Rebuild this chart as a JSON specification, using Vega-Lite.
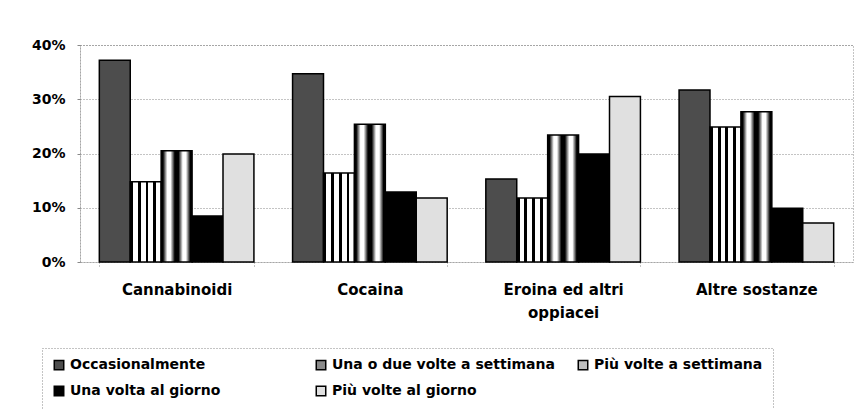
{
  "$schema": "https://vega.github.io/schema/vega-lite/v6.json",
  "width": 773,
  "height": 217,
  "autosize": {"type": "none"},
  "padding": {"left": 80, "top": 45, "right": 4, "bottom": 147},
  "background": "white",
  "config": {
    "font": "DejaVu Sans",
    "view": {"stroke": "#888", "strokeDash": [1, 2], "strokeWidth": 1},
    "legend": {"strokeDash": [1, 2]}
  },
  "data": {
    "values": [
      {"sostanza": "Cannabinoidi", "frequenza": "Occasionalmente", "valore": 0.372},
      {"sostanza": "Cannabinoidi", "frequenza": "Una o due volte a settimana", "valore": 0.148},
      {"sostanza": "Cannabinoidi", "frequenza": "Più volte a settimana", "valore": 0.205},
      {"sostanza": "Cannabinoidi", "frequenza": "Una volta al giorno", "valore": 0.085},
      {"sostanza": "Cannabinoidi", "frequenza": "Più volte al giorno", "valore": 0.199},
      {"sostanza": "Cocaina", "frequenza": "Occasionalmente", "valore": 0.347},
      {"sostanza": "Cocaina", "frequenza": "Una o due volte a settimana", "valore": 0.164},
      {"sostanza": "Cocaina", "frequenza": "Più volte a settimana", "valore": 0.254},
      {"sostanza": "Cocaina", "frequenza": "Una volta al giorno", "valore": 0.129},
      {"sostanza": "Cocaina", "frequenza": "Più volte al giorno", "valore": 0.118},
      {"sostanza": "Eroina ed altri oppiacei", "frequenza": "Occasionalmente", "valore": 0.153},
      {"sostanza": "Eroina ed altri oppiacei", "frequenza": "Una o due volte a settimana", "valore": 0.118},
      {"sostanza": "Eroina ed altri oppiacei", "frequenza": "Più volte a settimana", "valore": 0.234},
      {"sostanza": "Eroina ed altri oppiacei", "frequenza": "Una volta al giorno", "valore": 0.199},
      {"sostanza": "Eroina ed altri oppiacei", "frequenza": "Più volte al giorno", "valore": 0.305},
      {"sostanza": "Altre sostanze", "frequenza": "Occasionalmente", "valore": 0.317},
      {"sostanza": "Altre sostanze", "frequenza": "Una o due volte a settimana", "valore": 0.249},
      {"sostanza": "Altre sostanze", "frequenza": "Più volte a settimana", "valore": 0.277},
      {"sostanza": "Altre sostanze", "frequenza": "Una volta al giorno", "valore": 0.099},
      {"sostanza": "Altre sostanze", "frequenza": "Più volte al giorno", "valore": 0.072}
    ]
  },
  "mark": {"type": "bar", "stroke": "black", "strokeWidth": 1.5},
  "encoding": {
    "x": {
      "field": "sostanza",
      "type": "nominal",
      "sort": ["Cannabinoidi", "Cocaina", "Eroina ed altri oppiacei", "Altre sostanze"],
      "scale": {"paddingInner": 0.2, "paddingOuter": 0.1},
      "axis": {
        "title": null,
        "labelAngle": 0,
        "labelFont": "DejaVu Sans",
        "labelFontWeight": "bold",
        "labelFontSize": 15,
        "labelColor": "black",
        "labelPadding": 16,
        "labelLineHeight": 23,
        "labelExpr": "datum.label == 'Eroina ed altri oppiacei' ? ['Eroina ed altri', 'oppiacei'] : datum.label",
        "domain": false,
        "ticks": true,
        "tickBand": "extent",
        "tickSize": 4,
        "tickColor": "#888",
        "tickDash": [1, 2]
      }
    },
    "xOffset": {
      "field": "frequenza",
      "type": "nominal",
      "sort": ["Occasionalmente", "Una o due volte a settimana", "Più volte a settimana", "Una volta al giorno", "Più volte al giorno"],
      "scale": {"paddingInner": 0, "paddingOuter": 0}
    },
    "y": {
      "field": "valore",
      "type": "quantitative",
      "scale": {"domain": [0, 0.4]},
      "axis": {
        "title": null,
        "format": ".0%",
        "values": [0, 0.1, 0.2, 0.3, 0.4],
        "grid": true,
        "gridColor": "#888",
        "gridDash": [1, 2],
        "domainColor": "#888",
        "domainDash": [1, 2],
        "tickSize": 3,
        "tickColor": "#888",
        "labelFont": "DejaVu Sans",
        "labelFontWeight": "bold",
        "labelFontSize": 14,
        "labelPadding": 12,
        "labelColor": "black"
      }
    },
    "fill": {
      "condition": [
        {
          "test": "datum.frequenza == 'Una o due volte a settimana'",
          "value": {"gradient": "linear", "x1": 0, "y1": 0, "x2": 1, "y2": 0, "stops": [
            {"offset": 0, "color": "#000"}, {"offset": 0.09, "color": "#000"},
            {"offset": 0.09, "color": "#fff"}, {"offset": 0.25, "color": "#fff"},
            {"offset": 0.25, "color": "#000"}, {"offset": 0.34, "color": "#000"},
            {"offset": 0.34, "color": "#fff"}, {"offset": 0.5, "color": "#fff"},
            {"offset": 0.5, "color": "#000"}, {"offset": 0.59, "color": "#000"},
            {"offset": 0.59, "color": "#fff"}, {"offset": 0.75, "color": "#fff"},
            {"offset": 0.75, "color": "#000"}, {"offset": 0.84, "color": "#000"},
            {"offset": 0.84, "color": "#fff"}, {"offset": 1, "color": "#fff"}
          ]}
        },
        {
          "test": "datum.frequenza == 'Più volte a settimana'",
          "value": {"gradient": "linear", "x1": 0, "y1": 0, "x2": 1, "y2": 0, "stops": [
            {"offset": 0, "color": "#000"}, {"offset": 0.06, "color": "#000"},
            {"offset": 0.2, "color": "#fff"}, {"offset": 0.3, "color": "#fff"},
            {"offset": 0.44, "color": "#000"}, {"offset": 0.56, "color": "#000"},
            {"offset": 0.7, "color": "#fff"}, {"offset": 0.8, "color": "#fff"},
            {"offset": 0.94, "color": "#000"}, {"offset": 1, "color": "#000"}
          ]}
        }
      ],
      "field": "frequenza",
      "type": "nominal",
      "sort": ["Occasionalmente", "Una o due volte a settimana", "Più volte a settimana", "Una volta al giorno", "Più volte al giorno"],
      "scale": {"range": ["#4d4d4d", "#8a8a8a", "#bdbdbd", "#000000", "#e0e0e0"]},
      "legend": {
        "title": null,
        "orient": "none",
        "legendX": -38,
        "legendY": 303,
        "direction": "horizontal",
        "columns": 3,
        "gridAlign": "all",
        "columnPadding": 20,
        "rowPadding": 10,
        "padding": 10,
        "strokeColor": "#888",
        "symbolType": "square",
        "symbolSize": 90,
        "symbolStrokeColor": "black",
        "symbolStrokeWidth": 1.5,
        "labelFont": "DejaVu Sans",
        "labelFontSize": 14,
        "labelFontWeight": "bold",
        "labelColor": "black",
        "labelLimit": 300,
        "labelOffset": 4
      }
    }
  }
}
